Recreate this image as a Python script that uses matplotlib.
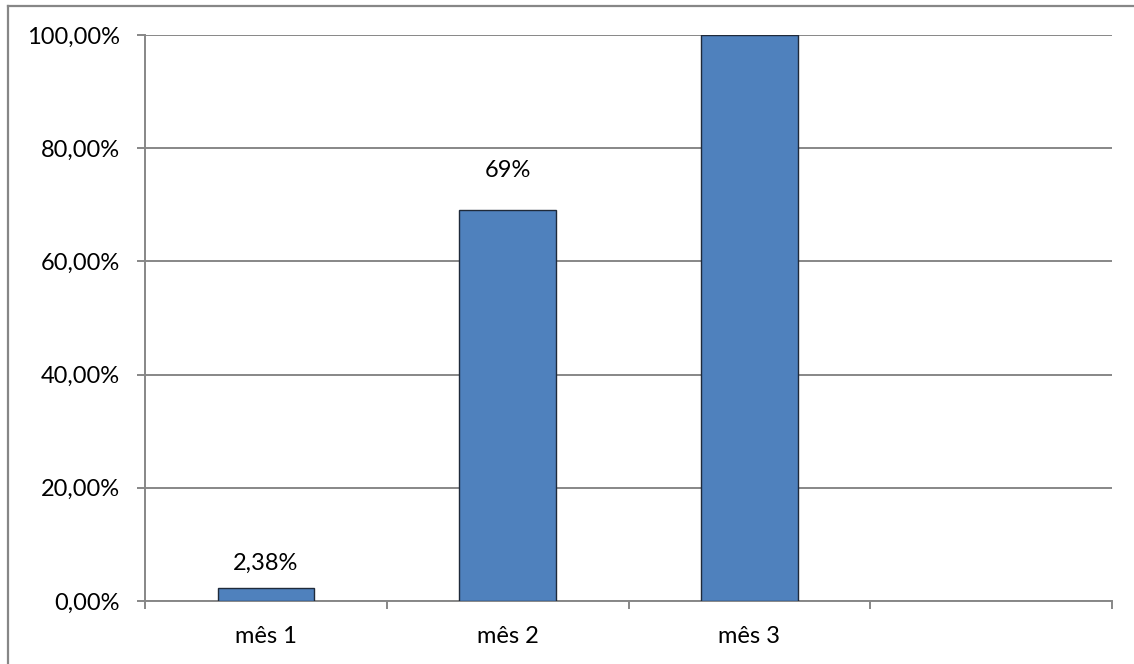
import numpy as np
import matplotlib
matplotlib.use("Agg")
import matplotlib.pyplot as plt
from matplotlib.lines import Line2D
from matplotlib.ticker import FuncFormatter, FixedLocator

# Data
categories = ["mês 1", "mês 2", "mês 3", ""]
values = [0.0238, 0.69, 1.0]
value_labels = ["2,38%", "69%", None]
y_ticks = [0.0, 0.2, 0.4, 0.6, 0.8, 1.0]

# Style
label_offsets = [10, 21]          # points above bar top
bar_color = "#4F81BD"
edge_color = "#1F2A3A"
grid_color = "#878787"
text_size = 17

plt.rcParams["font.family"] = ["Lato", "DejaVu Sans"]

fig = plt.figure(figsize=(11.34, 6.64), dpi=100)
ax = fig.add_axes([145 / 1134, (664 - 601) / 664, (1112 - 145) / 1134, (601 - 35) / 664])

x = np.arange(len(values))
bars = ax.bar(x, values, width=0.4, color=bar_color, edgecolor=edge_color, linewidth=1.0, zorder=3)

for rect, lab, off in zip(bars, value_labels, label_offsets + [0] * len(values)):
    if lab is None:
        continue
    ax.annotate(lab, (rect.get_x() + rect.get_width() / 2, rect.get_height()),
                xytext=(0, off), textcoords="offset points",
                ha="center", va="bottom", fontsize=text_size, color="#000000")

ax.set_xlim(-0.5, len(categories) - 0.5)
ax.set_ylim(0, 1.0)

ax.set_yticks(y_ticks)
ax.yaxis.set_major_formatter(FuncFormatter(lambda v, p: f"{v*100:.2f}%".replace(".", ",")))
ax.yaxis.grid(True, color=grid_color, linewidth=1.4, zorder=0)
ax.set_axisbelow(True)

ax.set_xticks(np.arange(len(categories)))
ax.set_xticklabels(categories)
ax.xaxis.set_minor_locator(FixedLocator(np.arange(len(categories) + 1) - 0.5))
ax.tick_params(axis="x", which="major", length=0, pad=18, labelsize=text_size, labelcolor="#000000")
ax.tick_params(axis="x", which="minor", length=6, width=1.4, color=grid_color, direction="out")
ax.tick_params(axis="y", which="major", length=6, width=1.4, color=grid_color, pad=12,
               labelsize=text_size, labelcolor="#000000")

for side in ("top", "right"):
    ax.spines[side].set_visible(False)
for side in ("left", "bottom"):
    ax.spines[side].set_color(grid_color)
    ax.spines[side].set_linewidth(1.4)

# Outer chart frame (left and top edges)
fx = 7.5 / 1134
fy = 1 - 5.5 / 664
fig.add_artist(Line2D([fx, fx], [0, fy], transform=fig.transFigure, color=grid_color, linewidth=1.6))
fig.add_artist(Line2D([fx, 1], [fy, fy], transform=fig.transFigure, color=grid_color, linewidth=1.6))

fig.savefig("out.png", dpi=100)
